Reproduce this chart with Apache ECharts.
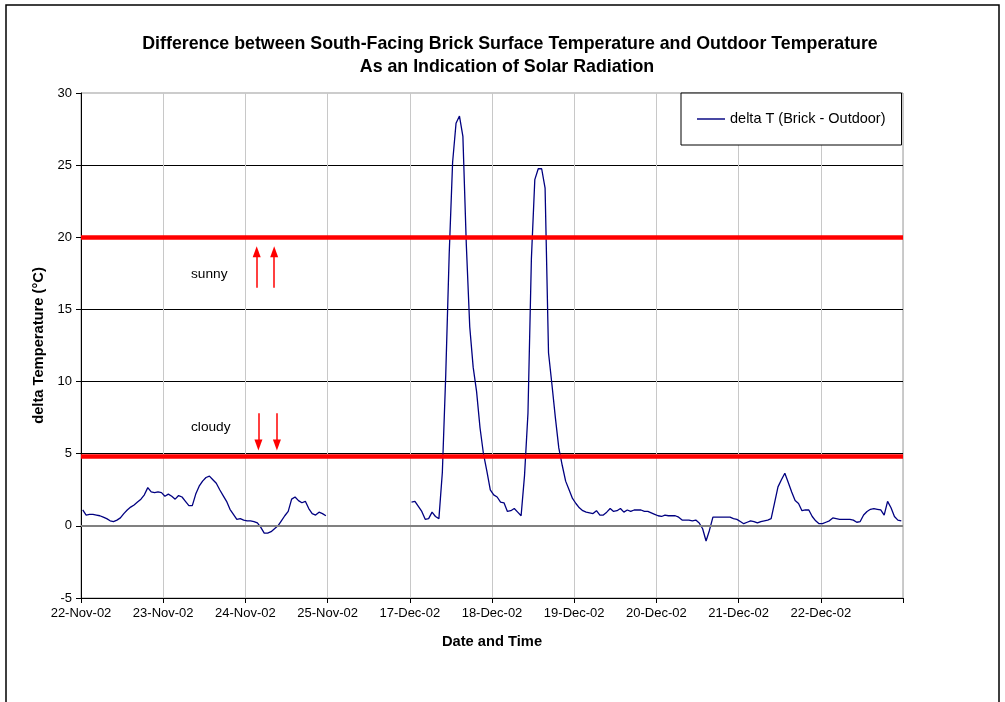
<!DOCTYPE html>
<html>
<head>
<meta charset="utf-8">
<script src="https://cdn.jsdelivr.net/npm/echarts@6.0.0/dist/echarts.min.js"></script>
<style>
html,body{margin:0;padding:0;background:#ffffff;}
#chart{width:1005px;height:702px;}
</style>
</head>
<body>
<div id="chart"></div>
<script>
// ---- data (hourly readings, one array per day) ----
const tickLabels = ['22-Nov-02','23-Nov-02','24-Nov-02','25-Nov-02','17-Dec-02','18-Dec-02','19-Dec-02','20-Dec-02','21-Dec-02','22-Dec-02',''];
const nov22 = [1.1,0.75,0.8,0.8,0.75,0.7,0.6,0.5,0.35,0.3,0.4,0.55,0.85,1.1,1.3,1.45,1.65,1.85,2.15,2.65,2.35,2.3,2.35,2.3];
const nov23 = [2.05,2.2,2.05,1.85,2.1,2.0,1.7,1.4,1.4,2.2,2.75,3.1,3.35,3.45,3.2,2.95,2.5,2.1,1.7,1.15,0.8,0.45,0.5,0.4];
const nov24 = [0.35,0.35,0.3,0.2,-0.1,-0.5,-0.5,-0.4,-0.2,0.0,0.35,0.7,1.0,1.85,2.0,1.75,1.6,1.7,1.2,0.85,0.75,0.95,0.85,0.7];
const nov25 = [null,null,null,null,null,null,null,null,null,null,null,null,null,null,null,null,null,null,null,null,null,null,null,null];
const dec17 = [1.65,1.7,1.35,1.0,0.45,0.5,0.95,0.65,0.5,3.7,10.5,18.8,25.2,27.9,28.4,27.0,19.5,13.8,11.0,9.3,6.8,5.0,3.8,2.5];
const dec18 = [2.15,2.0,1.65,1.6,1.0,1.05,1.2,0.95,0.7,3.5,7.8,18.5,24.0,24.75,24.75,23.4,12.0,9.8,7.5,5.4,4.2,3.1,2.5,1.9];
const dec19 = [1.55,1.25,1.05,0.95,0.9,0.85,1.05,0.75,0.75,0.95,1.2,1.0,1.05,1.2,0.95,1.1,1.0,1.1,1.1,1.1,1.0,1.0,0.9,0.8];
const dec20 = [0.7,0.65,0.75,0.7,0.7,0.7,0.6,0.4,0.4,0.4,0.35,0.4,0.2,-0.2,-1.05,-0.3,0.6,0.6,0.6,0.6,0.6,0.6,0.5,0.45];
const dec21 = [0.3,0.15,0.25,0.35,0.3,0.2,0.3,0.35,0.4,0.5,1.6,2.7,3.2,3.65,3.0,2.35,1.75,1.55,1.05,1.1,1.1,0.65,0.35,0.15];
const dec22 = [0.15,0.25,0.35,0.55,0.5,0.45,0.45,0.45,0.45,0.4,0.25,0.3,0.75,1.0,1.15,1.2,1.15,1.1,0.75,1.7,1.25,0.65,0.4,0.35];
const seriesName = 'delta T (Brick - Outdoor)';
const sunnyLevel = 20;
const cloudyLevel = 4.85;
const hoursPerDay = 24;

const days = [nov22, nov23, nov24, nov25, dec17, dec18, dec19, dec20, dec21, dec22];
const values = [].concat(...days);
const points = values.map((v, i) => [i + 0.5, v]);
const totalHours = days.length * hoursPerDay;

const FONT = '"Liberation Sans", Arial, sans-serif';
const chart = echarts.init(document.getElementById('chart'), null, {renderer: 'canvas'});

const arrowStyle = {color: '#ff0000', width: 1.5, type: 'solid'};

chart.setOption({
  animation: false,
  backgroundColor: '#ffffff',
  textStyle: {fontFamily: FONT},
  grid: {left: 81, right: 102, top: 93, bottom: 104, show: true, borderColor: '#999999', borderWidth: 1, backgroundColor: 'transparent'},
  legend: {
    left: 681, top: 93,
    orient: 'vertical',
    data: [{name: seriesName, icon: 'rect'}],
    itemWidth: 28, itemHeight: 1.6,
    padding: [17, 16, 17, 16],
    borderColor: '#000000', borderWidth: 1, backgroundColor: '#ffffff',
    itemStyle: {color: '#1a1a8c'},
    textStyle: {fontSize: 14.5, color: '#000', fontFamily: FONT, lineHeight: 18}
  },
  xAxis: {
    type: 'value', min: 0, max: totalHours, interval: hoursPerDay,
    name: 'Date and Time', nameLocation: 'middle', nameGap: 36,
    nameTextStyle: {fontSize: 14.7, fontWeight: 'bold', color: '#000', fontFamily: FONT},
    axisLine: {show: true, onZero: false, lineStyle: {color: '#000', width: 1}},
    axisTick: {show: true, inside: false, length: 5, lineStyle: {color: '#000'}},
    axisLabel: {fontSize: 13, color: '#000', margin: 9, fontFamily: FONT,
      showMaxLabel: true,
      formatter: v => tickLabels[Math.round(v / hoursPerDay)] || ''},
    splitLine: {show: true, lineStyle: {color: '#c8c8c8', width: 1}}
  },
  yAxis: {
    type: 'value', min: -5, max: 30, interval: 5,
    name: 'delta Temperature (\u00B0C)', nameLocation: 'middle', nameGap: 35, nameRotate: 90,
    nameTextStyle: {fontSize: 14.7, fontWeight: 'bold', color: '#000', fontFamily: FONT},
    axisLine: {show: true, lineStyle: {color: '#000', width: 1}},
    axisTick: {show: true, inside: false, length: 5, lineStyle: {color: '#000'}},
    axisLabel: {fontSize: 13, color: '#000', margin: 9, fontFamily: FONT},
    splitLine: {show: true, showMaxLine: false, lineStyle: {color: '#000000', width: 1}}
  },
  series: [
    {
      type: 'line', name: 'thresholds', data: [], z: 1, silent: true,
      markLine: {
        silent: true, symbol: ['none', 'none'], label: {show: false}, animation: false,
        data: [
          {yAxis: 0, lineStyle: {color: '#808080', width: 2, type: 'solid'}},
          {yAxis: sunnyLevel, lineStyle: {color: '#ff0000', width: 4.5, type: 'solid'}},
          {yAxis: cloudyLevel, lineStyle: {color: '#ff0000', width: 4.5, type: 'solid'}}
        ]
      }
    },
    {
      type: 'line', name: 'arrows', data: [], z: 1, silent: true,
      markLine: {
        silent: true, symbol: ['none', 'triangle'], symbolSize: [8, 11], label: {show: false}, animation: false,
        lineStyle: arrowStyle,
        data: [
          [{coord: [51.3, 16.5]}, {coord: [51.3, 19.0]}],
          [{coord: [56.4, 16.5]}, {coord: [56.4, 19.0]}],
          [{coord: [51.8, 7.8]}, {coord: [51.8, 5.6]}],
          [{coord: [57.2, 7.8]}, {coord: [57.2, 5.6]}]
        ]
      }
    },
    {
      type: 'line', name: seriesName, data: points, z: 3,
      symbol: 'none', showSymbol: false, connectNulls: false,
      lineStyle: {color: '#000080', width: 1.3},
      itemStyle: {color: '#000080'}
    }
  ],
  graphic: [
    {type: 'rect', shape: {x: 6, y: 5, width: 993, height: 720}, style: {fill: 'none', stroke: '#000', lineWidth: 1.5}, silent: true, z: 100},
    {type: 'text', x: 510, y: 44, style: {text: 'Difference between South-Facing Brick Surface Temperature and Outdoor Temperature', fontSize: 17.8, fontWeight: 'bold', fontFamily: FONT, fill: '#000', textAlign: 'center', textVerticalAlign: 'middle'}},
    {type: 'text', x: 507, y: 67, style: {text: 'As an Indication of Solar Radiation', fontSize: 17.8, fontWeight: 'bold', fontFamily: FONT, fill: '#000', textAlign: 'center', textVerticalAlign: 'middle'}},
    {type: 'text', x: 191, y: 274, style: {text: 'sunny', fontSize: 13.7, fontFamily: FONT, fill: '#000', textAlign: 'left', textVerticalAlign: 'middle'}},
    {type: 'text', x: 191, y: 427, style: {text: 'cloudy', fontSize: 13.7, fontFamily: FONT, fill: '#000', textAlign: 'left', textVerticalAlign: 'middle'}}
  ]
});
</script>
</body>
</html>
